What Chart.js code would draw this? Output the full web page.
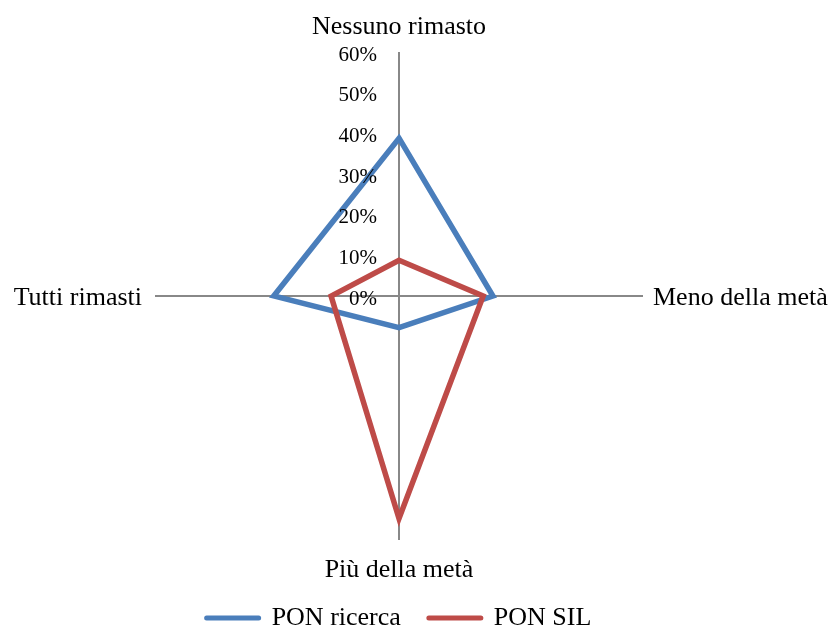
<!DOCTYPE html>
<html lang="it">

<head>
    <meta charset="UTF-8">
    <title>PON ricerca / PON SIL</title>
    <script src="https://cdn.jsdelivr.net/npm/chart.js"></script>
    <style>
        body { margin: 0; background: #fff; }
        #contenitore { width: 833px; height: 628px; }
    </style>
</head>

<body>
    <div id="contenitore">
        <canvas id="grafico-radar"></canvas>
    </div>

    <script>
        // Dati
        const categorie = ['Nessuno rimasto', 'Meno della metà', 'Più della metà', 'Tutti rimasti'];
        const ponRicerca = [38.8, 23.1, 7.8, 30.8];
        const ponSil = [8.8, 20.7, 54.7, 16.7];
        const tickValori = [0, 10, 20, 30, 40, 50, 60];
        const tickEtichette = ['0%', '10%', '20%', '30%', '40%', '50%', '60%'];

        const fontSerif = '"Liberation Serif", "Times New Roman", serif';

        // Etichette degli assi e dei valori disegnate con la scala radiale
        const etichettePlugin = {
            id: 'etichette',
            afterDatasetsDraw(chart) {
                const scale = chart.scales.r;
                const ctx = chart.ctx;
                const r = scale.drawingArea;
                ctx.save();
                ctx.fillStyle = '#000';

                // valori percentuali sull'asse verticale
                ctx.font = '21px ' + fontSerif;
                ctx.textAlign = 'right';
                ctx.textBaseline = 'alphabetic';
                tickValori.forEach((v, i) => {
                    const y = scale.yCenter - scale.getDistanceFromCenterForValue(v);
                    ctx.fillText(tickEtichette[i], scale.xCenter - 22, y + 8.5);
                });

                // nomi delle categorie
                ctx.font = '26px ' + fontSerif;
                const distanze = [17.7, 10, 37, 13];
                const allineamenti = ['center', 'left', 'center', 'right'];
                const spostY = [0, 9, 0, 9];
                categorie.forEach((c, i) => {
                    const p = scale.getPointPosition(i, r + distanze[i]);
                    ctx.textAlign = allineamenti[i];
                    ctx.fillText(c, p.x, p.y + spostY[i]);
                });
                ctx.restore();
            }
        };

        const ctx = document.getElementById('grafico-radar').getContext('2d');
        const grafico = new Chart(ctx, {
            type: 'radar',
            data: {
                labels: categorie,
                datasets: [{
                    label: 'PON ricerca',
                    data: ponRicerca,
                    borderColor: '#4A7EBB',
                    backgroundColor: '#4A7EBB',
                    borderWidth: 5.5,
                    fill: false,
                    pointRadius: 0,
                    pointHoverRadius: 0,
                    order: 1
                }, {
                    label: 'PON SIL',
                    data: ponSil,
                    borderColor: '#BE4B48',
                    backgroundColor: '#BE4B48',
                    borderWidth: 5.5,
                    fill: false,
                    pointRadius: 0,
                    pointHoverRadius: 0,
                    order: 0 // il rosso sopra il blu
                }]
            },
            options: {
                responsive: true,
                maintainAspectRatio: false,
                animation: false,
                layout: {
                    padding: { top: 15, left: 155, right: 190, bottom: -13 }
                },
                scales: {
                    r: {
                        min: 0,
                        max: 60,
                        ticks: { display: false, stepSize: 10 },
                        grid: { display: false },
                        angleLines: { display: true, color: '#888888', lineWidth: 2 },
                        pointLabels: { display: false }
                    }
                },
                plugins: {
                    tooltip: { enabled: false },
                    legend: {
                        position: 'bottom',
                        labels: {
                            font: { family: fontSerif, size: 26 },
                            color: '#000',
                            padding: 28,
                            usePointStyle: true,
                            pointStyleWidth: 52,
                            boxHeight: 26,
                            sort: (a, b) => a.datasetIndex - b.datasetIndex,
                            generateLabels: (chart) =>
                                Chart.defaults.plugins.legend.labels.generateLabels(chart).map((l) =>
                                    Object.assign(l, { pointStyle: 'line', lineWidth: 5, lineCap: 'round' }))
                        }
                    }
                }
            },
            plugins: [etichettePlugin]
        });
    </script>
</body>

</html>
